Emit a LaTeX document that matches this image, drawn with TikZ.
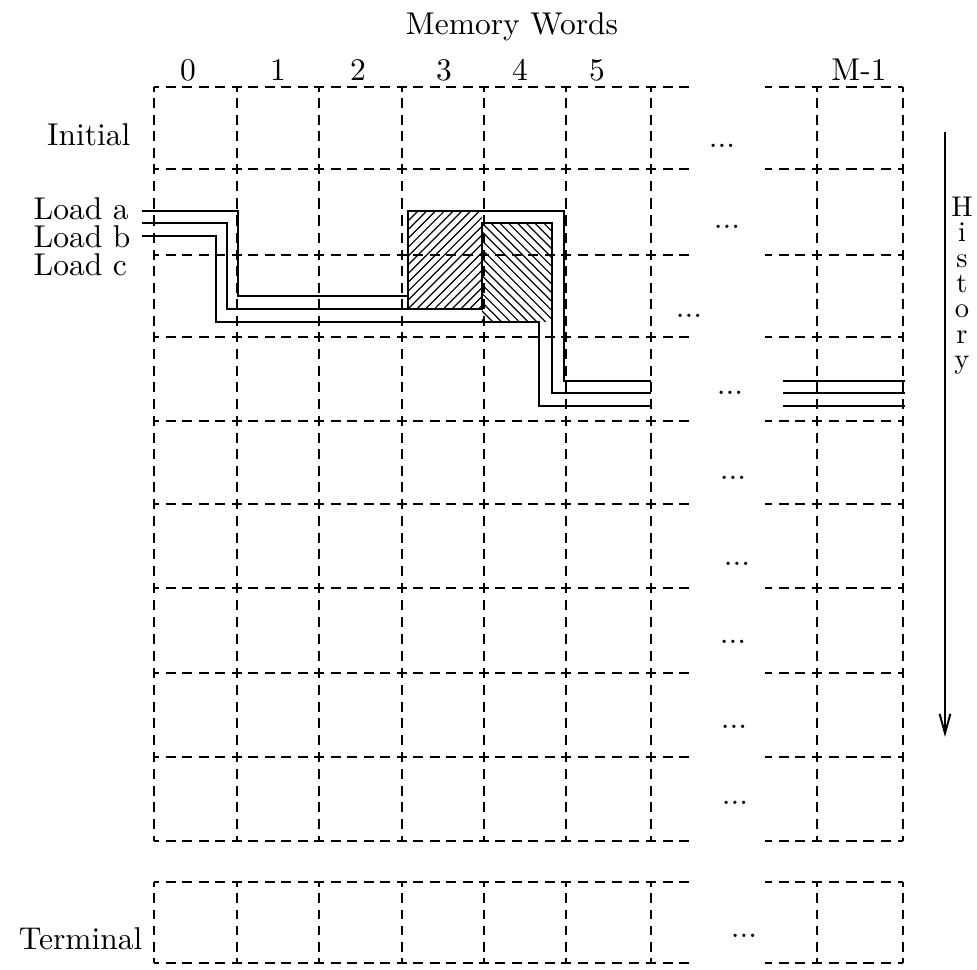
\documentclass[tikz,border=0pt]{standalone}
\usetikzlibrary{arrows.meta}
\newcommand\histfont{\fontsize{9.5}{8.43}\selectfont\lineskiplimit=-20pt\relax}
\tikzset{
  lbl/.style={inner sep=0pt, font=\fontsize{10.5}{12.6}\selectfont},
  vlbl/.style={inner sep=0pt, align=center, font=\histfont},
  gridline/.style={line width=0.55pt, black},
  memline/.style={line width=0.65pt, black},
  hatchline/.style={line width=0.4pt, black},
  histarrow/.style={line width=0.65pt, -{Straight Barb[length=6.5pt,width=3.6pt,line width=0.65pt]}}
}
% full dashed segment: starts and ends with a half dash
\newcommand\gdLine[4]{%
  \pgfmathsetmacro\gdLen{veclen(#3-#1,#4-#2)}%
  \pgfmathsetmacro\gdNum{max(1,round(\gdLen/16.8))}%
  \pgfmathsetmacro\gdPer{\gdLen/\gdNum/3}%
  \pgfmathsetmacro\gdOn{0.6*\gdPer}%
  \pgfmathsetmacro\gdOff{0.4*\gdPer}%
  \pgfmathsetmacro\gdPh{0.3*\gdPer}%
  \draw[gridline, dash pattern=on \gdOn pt off \gdOff pt, dash phase=\gdPh pt] (#1,#2) -- (#3,#4);}
% partial dashed segment, fixed period, starting at the first point
\newcommand\gdPart[4]{%
  \draw[gridline, dash pattern=on 3.32pt off 2.21pt, dash phase=1.66pt] (#1,#2) -- (#3,#4);}
\begin{document}
\begin{tikzpicture}[x=0.333333pt,y=-0.333333pt]
\useasboundingbox (0,0) rectangle (977,970);

% ---------- dashed grid ----------
\foreach \y in {87,169,255,337,421,504,588,673,757,841,882,963} {
  \foreach \xa/\xb in {154/237,237/319,319/402,402/484,484/566,566/651,817/903} {
    \gdLine{\xa}{\y}{\xb}{\y}
  }
  \gdPart{651}{\y}{693}{\y}
  \gdPart{817}{\y}{765}{\y}
}
\foreach \x in {154,237,319,402,484,566,651,817,903} {
  \foreach \ya/\yb in {87/169,169/255,255/337,337/421,421/504,504/588,588/673,673/757,757/841,882/963} {
    \gdLine{\x}{\ya}{\x}{\yb}
  }
}

% ---------- hatched areas ----------
\begin{scope}
  \clip (408,211) rectangle (482,309);
  \foreach \k in {-13,...,10} {
    \draw[hatchline] (408+\k*8.8,309) -- ++(130,-130);
  }
\end{scope}
\begin{scope}
  \clip (482,223) rectangle (552,322);
  \foreach \k in {-13,...,10} {
    \draw[hatchline] (482+\k*8.8,223) -- ++(130,130);
  }
\end{scope}

% ---------- load paths ----------
\draw[memline] (142,211) -- (238,211) -- (238,296) -- (408,296) -- (408,211) -- (564,211) -- (564,381) -- (651,381);
\draw[memline] (408,296) -- (408,309);
\draw[memline] (142,223) -- (227,223) -- (227,309) -- (482,309) -- (482,223) -- (552,223) -- (552,393) -- (651,393);
\draw[memline] (142,236) -- (216,236) -- (216,322) -- (539,322) -- (539,406) -- (651,406);
\draw[memline] (783,381) -- (905,381);
\draw[memline] (783,393) -- (905,393);
\draw[memline] (783,406) -- (905,406);

% ---------- labels ----------
\node[lbl,anchor=base] (title) at (512,35) {Memory Words};
\node[lbl,anchor=base] (c0) at (188,81) {0};
\node[lbl,anchor=base] (c1) at (278,81) {1};
\node[lbl,anchor=base] (c2) at (358,81) {2};
\node[lbl,anchor=base] (c3) at (444,81) {3};
\node[lbl,anchor=base] (c4) at (520,81) {4};
\node[lbl,anchor=base] (c5) at (597,81) {5};
\node[lbl,anchor=base] (cM) at (859,81) {M-1};

\node[lbl,anchor=base east] (initial) at (131,145) {Initial};
\node[lbl,anchor=base west] (loada) at (33,220) {Load a};
\node[lbl,anchor=base west] (loadb) at (33,247) {Load b};
\node[lbl,anchor=base west] (loadc) at (33,276) {Load c};
\node[lbl,anchor=base east] (terminal) at (143,950) {Terminal};

% ---------- dots ----------
\node[lbl,anchor=base] (d1) at (722,147) {...};
\node[lbl,anchor=base] (d2) at (727,229) {...};
\node[lbl,anchor=base] (d3) at (689,317) {...};
\node[lbl,anchor=base] (d4) at (730,395) {...};
\node[lbl,anchor=base] (d5) at (733,480) {...};
\node[lbl,anchor=base] (d6) at (737,566) {...};
\node[lbl,anchor=base] (d7) at (733,644) {...};
\node[lbl,anchor=base] (d8) at (734,729) {...};
\node[lbl,anchor=base] (d9) at (735,805) {...};
\node[lbl,anchor=base] (d10) at (744,938) {...};

% ---------- history arrow ----------
\coordinate (histtop) at (945,132);
\coordinate (histbot) at (945,737);
\draw[histarrow] (histtop) -- (histbot);
\node[vlbl,anchor=north] (history) at (962,196.5) {H\\i\\s\\t\\o\\r\\y};
\end{tikzpicture}
\end{document}
